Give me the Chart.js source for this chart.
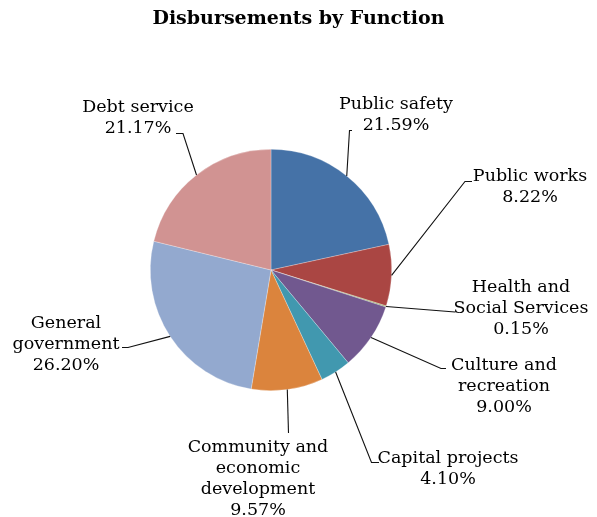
<!DOCTYPE html>
<html>
<head>
<meta charset="utf-8">
<script src="https://cdn.jsdelivr.net/npm/chart.js@4"></script>
<style>
  html, body { margin: 0; padding: 0; background: #fff; }
  #wrap { width: 597px; height: 517px; position: relative; }
</style>
</head>
<body>
<div id="wrap"><canvas id="pieChart" width="597" height="517"></canvas></div>
<script>
const categories = [
  'Public safety', 'Public works', 'Health and Social Services', 'Culture and recreation',
  'Capital projects', 'Community and economic development', 'General government', 'Debt service'
];
const shares = [21.59, 8.22, 0.15, 9.00, 4.10, 9.57, 26.20, 21.17];
const pctLabels = ['21.59%', '8.22%', '0.15%', '9.00%', '4.10%', '9.57%', '26.20%', '21.17%'];
const colors = ['#4572A7', '#AA4643', '#89A54E', '#71588F', '#4198AF', '#DB843D', '#93A9CF', '#D19392'];

// label placement: text lines, centre x, first line y, then leader points from the text towards the slice
const labelLayout = [
  { lines: ['Public safety'], cx: 396, y: 104, path: [[352, 130.5], [349.5, 130.5]] },
  { lines: ['Public works'], cx: 530, y: 176, path: [[472, 181.5], [465, 181.5]] },
  { lines: ['Health and', 'Social Services'], cx: 521, y: 287, path: [[455, 312]] },
  { lines: ['Culture and', 'recreation'], cx: 504, y: 365, path: [[446, 368.5], [441, 368.5]] },
  { lines: ['Capital projects'], cx: 448, y: 458, path: [[379, 462.5], [371.5, 462.5]] },
  { lines: ['Community and', 'economic', 'development'], cx: 258, y: 447, path: [[288.5, 433]] },
  { lines: ['General', 'government'], cx: 66, y: 323, path: [[122, 347.5], [128, 347.5]] },
  { lines: ['Debt service'], cx: 138, y: 107, path: [[176, 133.5], [183, 133.5]] }
];

const labelFont = '17.5px "DejaVu Serif", serif';
const lineH = 21;

const pieLabels = {
  id: 'pieLabels',
  afterDraw(chart) {
    const ctx = chart.ctx;
    const meta = chart.getDatasetMeta(0);
    ctx.save();
    // title
    ctx.fillStyle = '#000';
    ctx.font = 'bold 19px "DejaVu Serif", serif';
    ctx.textAlign = 'center';
    ctx.textBaseline = 'middle';
    ctx.fillText('Disbursements by Function', chart.width / 2, 19);

    ctx.font = labelFont;
    labelLayout.forEach((lab, i) => {
      const arc = meta.data[i];
      const mid = (arc.startAngle + arc.endAngle) / 2;
      const ex = arc.x + Math.cos(mid) * arc.outerRadius;
      const ey = arc.y + Math.sin(mid) * arc.outerRadius;
      ctx.strokeStyle = '#111';
      ctx.lineWidth = 1.1;
      ctx.beginPath();
      lab.path.forEach((p, k) => k === 0 ? ctx.moveTo(p[0], p[1]) : ctx.lineTo(p[0], p[1]));
      ctx.lineTo(ex, ey);
      ctx.stroke();
      const lines = lab.lines.concat(pctLabels[i]);
      lines.forEach((t, k) => ctx.fillText(t, lab.cx, lab.y + k * lineH));
    });
    ctx.restore();
  }
};

new Chart(document.getElementById('pieChart').getContext('2d'), {
  type: 'pie',
  data: {
    labels: categories,
    datasets: [{
      data: shares,
      backgroundColor: colors,
      borderColor: 'rgba(255,255,255,0.45)',
      borderWidth: 0.6
    }]
  },
  options: {
    responsive: false,
    animation: false,
    layout: { padding: { left: 150, right: 205, top: 149, bottom: 126 } },
    plugins: {
      legend: { display: false },
      title: { display: false },
      tooltip: { enabled: false }
    }
  },
  plugins: [pieLabels]
});
</script>
</body>
</html>
